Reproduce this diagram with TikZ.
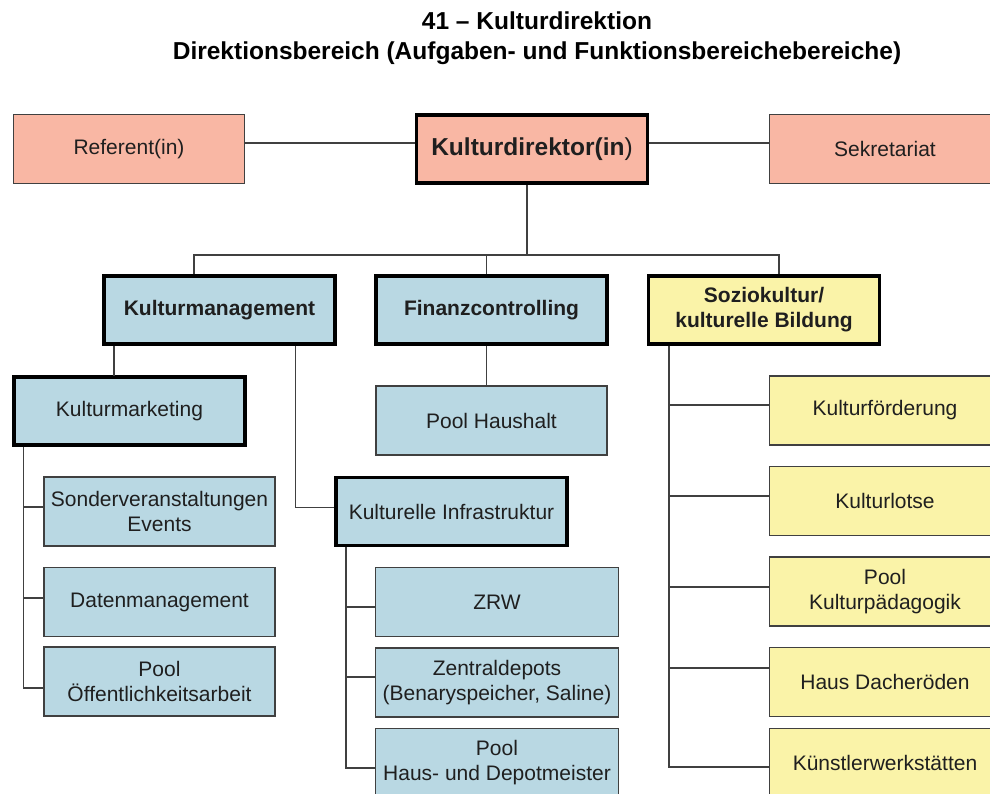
\documentclass[tikz,border=0pt]{standalone}
\usepackage{fontspec}
\setmainfont{Liberation Sans}
\usepackage{tikz}
\usepackage{xcolor}
\definecolor{salmon}{HTML}{F9B7A4}
\definecolor{iceblue}{HTML}{B9D8E3}
\definecolor{paleyellow}{HTML}{FAF3A8}
\definecolor{frame}{HTML}{404040}

\begin{document}
\begin{tikzpicture}[
    x=1pt, y=-1pt,
    unit/.style={rectangle, draw=frame, line width=1.3pt, minimum width=231pt, minimum height=69pt, inner sep=2pt, align=center, text=black!88, font=\fontsize{21}{25}\selectfont},
    chief/.style={unit, draw=black, line width=3.5pt, minimum height=68pt},
    boldtext/.style={font=\bfseries\fontsize{21}{25}\selectfont},
    link/.style={draw=frame, line width=1.3pt}
]
    \useasboundingbox (0,0) rectangle (990,794);

    % Title
    \node[font=\bfseries\fontsize{24.5}{30}\selectfont, align=center] (title) at (537,38) {41 – Kulturdirektion\\Direktionsbereich (Aufgaben- und Funktionsbereichebereiche)};

    % Direktion
    \node[unit, fill=salmon] (ref) at (129,149) {Referent(in)};
    \node[chief, fill=salmon, font=\bfseries\fontsize{24.5}{28}\selectfont] (kd) at (532,149) {Kulturdirektor(in\textmd{)}};
    \node[unit, fill=salmon] (sek) at (885,149) {Sekretariat};

    % Bereiche
    \node[chief, boldtext, fill=iceblue] (km) at (219.5,310) {Kulturmanagement};
    \node[chief, boldtext, fill=iceblue] (fc) at (491.5,310) {Finanzcontrolling};
    \node[chief, boldtext, fill=paleyellow] (sk) at (764,310) {Soziokultur/\\kulturelle Bildung};

    % Kulturmanagement
    \node[chief, fill=iceblue] (kmk) at (129.5,411) {Kulturmarketing};
    \node[unit, fill=iceblue] (son) at (159.5,511.5) {Sonderveranstaltungen\\Events};
    \node[unit, fill=iceblue] (dat) at (159.5,602) {Datenmanagement};
    \node[unit, fill=iceblue] (poe) at (159.5,681.5) {Pool\\Öffentlichkeitsarbeit};
    \node[chief, fill=iceblue] (ki) at (451.5,511.5) {Kulturelle Infrastruktur};
    \node[unit, fill=iceblue, minimum width=243pt] (zrw) at (497,602) {ZRW};
    \node[unit, fill=iceblue, minimum width=243pt] (zd) at (497,682.5) {Zentraldepots\\(Benaryspeicher, Saline)};
    \node[unit, fill=iceblue, minimum width=243pt] (hdm) at (497,763) {Pool\\Haus- und Depotmeister};

    % Finanzcontrolling
    \node[unit, fill=iceblue] (ph) at (491.5,420.5) {Pool Haushalt};

    % Soziokultur
    \node[unit, fill=paleyellow] (kf) at (885,410.5) {Kulturförderung};
    \node[unit, fill=paleyellow] (kl) at (885,501) {Kulturlotse};
    \node[unit, fill=paleyellow] (kp) at (885,591.5) {Pool\\Kulturpädagogik};
    \node[unit, fill=paleyellow] (hd) at (885,682) {Haus Dacheröden};
    \node[unit, fill=paleyellow] (kw) at (885,763) {Künstlerwerkstätten};

    % Connections
    \coordinate (bus) at (527,255);
    \draw[link] ([yshift=6pt]ref.east) -- ([yshift=6pt]kd.west);
    \draw[link] ([yshift=6pt]kd.east) -- ([yshift=6pt]sek.west);
    \draw[link] ([xshift=-5pt]kd.south) -- (bus);
    \draw[link] ([xshift=-25.5pt]km.north) |- (bus) -| ([xshift=15pt]sk.north);
    \draw[link] ([xshift=-5pt]fc.north) -- ++(0,-20);
    \draw[link] ([xshift=-5pt]fc.south) -- ([xshift=-5pt]ph.north);
    \draw[link] ([xshift=-105.5pt]km.south) -- ++(0,30);
    \draw[link] ([xshift=76pt]km.south) |- ([yshift=4pt]ki.west);
    \foreach \n/\dy in {son/4.5, dat/4, poe/-6.5}
        \draw[link] ([xshift=-106pt]kmk.south) |- ([yshift=\dy pt]\n.west);
    \foreach \n/\dy in {zrw/-5, zd/5.5, hdm/-5}
        \draw[link] ([xshift=-105.5pt]ki.south) |- ([yshift=\dy pt]\n.west);
    \foreach \n/\dy in {kf/5.5, kl/5, kp/4.5, hd/14, kw/-4}
        \draw[link] ([xshift=-95pt]sk.south) |- ([yshift=\dy pt]\n.west);

\end{tikzpicture}
\end{document}
